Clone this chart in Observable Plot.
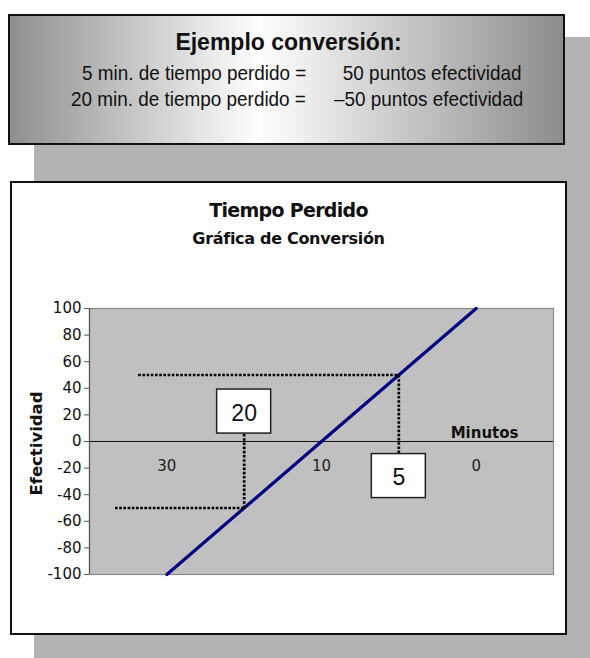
<!DOCTYPE html>
<html>
<head>
<meta charset="utf-8">
<script src="https://cdn.jsdelivr.net/npm/d3@7"></script>
<script src="https://cdn.jsdelivr.net/npm/@observablehq/plot@0.6"></script>
<style>
  body { margin: 0; background: #ffffff; }
  #page { position: relative; width: 590px; height: 658px; overflow: hidden; font-family: "Liberation Sans", Arial, sans-serif; }
  #shadow { position: absolute; left: 34px; top: 37px; width: 556px; height: 621px; background: #b3b3b3; }
  #banner { position: absolute; left: 8px; top: 14px; width: 557px; height: 131px; box-sizing: border-box;
            border: 2px solid #111; background: linear-gradient(to right, #8f8f8f 0%, #ffffff 45%, #8c8c8c 100%); }
  .bt { position: absolute; white-space: pre; line-height: 1; color: #111; }
  .nar { font-size: 21px; transform: scaleX(0.9); transform-origin: right center; }
  #chartbox { position: absolute; left: 10px; top: 181px; width: 557px; height: 454px; box-sizing: border-box;
              border: 2px solid #111; background: #ffffff; }
  .ct { position: absolute; left: 10px; width: 557px; text-align: center; line-height: 1; font-family: "DejaVu Sans", Verdana, sans-serif; font-weight: bold; color: #111; white-space: pre; }
  #plot { position: absolute; left: 0; top: 0; }
</style>
</head>
<body>
<div id="page">
  <div id="shadow"></div>
  <div id="banner"></div>
  <div class="bt" style="left:0;width:577px;text-align:center;top:31px;font-size:23px;font-weight:bold;">Ejemplo conversión:</div>
  <div class="bt nar" style="right:284px;top:62px;">5 min. de tiempo perdido =</div>
  <div class="bt nar" style="right:69px;top:62px;">50 puntos efectividad</div>
  <div class="bt nar" style="right:284px;top:88px;">20 min. de tiempo perdido =</div>
  <div class="bt nar" style="right:67px;top:88px;">–50 puntos efectividad</div>
  <div id="chartbox"></div>
  <div class="ct" style="top:201px;font-size:19px;letter-spacing:-0.7px;">Tiempo Perdido</div>
  <div class="ct" style="top:231px;font-size:16px;letter-spacing:-0.3px;">Gráfica de Conversión</div>
  <div id="plot"></div>
</div>
<script>
// ---- data ----
const categoryLabels = ["30", "10", "0"];      // category axis labels (minutes)
const categoryMinutes = [30, 10, 0];
const efectividad = [-100, 0, 100];            // conversion line values
const yTicks = [-100, -80, -60, -40, -20, 0, 20, 40, 60, 80, 100];
const exampleMinutes = [20, 5];                 // example conversions
const exampleEfect = [-50, 50];
const guideStartMinutes = [36.7, 33.7];         // where the dotted guides start
const boxValue = [22.5, -26];                   // label box centre (efectividad units)

// minute -> category index (piecewise, like the Excel category axis)
const toIdx = d3.scaleLinear().domain(categoryMinutes).range(categoryMinutes.map((_, i) => i));

const lineData = categoryLabels.map((label, i) => ({ i, label, v: efectividad[i] }));
const examples = exampleMinutes.map((m, k) => ({
  m, idx: toIdx(m), ef: exampleEfect[k], from: toIdx(guideStartMinutes[k]), box: boxValue[k]
}));

const dotted = { stroke: "#000", strokeWidth: 2.7, strokeDasharray: "2.6,1.6" };

const chart = Plot.plot({
  width: 590,
  height: 658,
  marginLeft: 89,
  marginRight: 37,
  marginTop: 308,
  marginBottom: 84,
  style: { background: "transparent", overflow: "visible", fontFamily: "DejaVu Sans, Verdana, sans-serif", color: "#111" },
  x: { domain: [-0.5, categoryLabels.length - 0.5], axis: null },
  y: { domain: [-100, 100], axis: null },
  marks: [
    Plot.frame({ fill: "#c0c0c0", stroke: "#8a8a8a", strokeWidth: 1.2 }),
    Plot.ruleX([-0.5], { stroke: "#555", strokeWidth: 1.2 }),
    Plot.axisY({ ticks: yTicks, tickFormat: d => String(d), tickSize: 5, tickPadding: 3, fontSize: 15, letterSpacing: -0.4, label: null, stroke: "#555" }),
    Plot.ruleY([0], { stroke: "#111", strokeWidth: 1.2 }),
    Plot.text(lineData, { x: "i", y: () => 0, text: "label", dy: 25, fontSize: 15, fill: "#222" }),
    Plot.text(["Minutos"], { frameAnchor: "right", y: () => 0, dx: -35, dy: -4, textAnchor: "end", lineAnchor: "bottom", fontSize: 15, fontWeight: "bold", letterSpacing: -0.8, fill: "#111" }),
    Plot.text(["Efectividad"], { frameAnchor: "left", textAnchor: "middle", dx: -52.5, dy: 2, rotate: -90, fontSize: 16.5, fontWeight: "bold", fill: "#111" }),
    Plot.line(lineData, { x: "i", y: "v", stroke: "#000080", strokeWidth: 3.2 }),
    Plot.link(examples, { x1: "from", x2: "idx", y1: "ef", y2: "ef", ...dotted }),
    Plot.link(examples, { x1: "idx", x2: "idx", y1: "ef", y2: "box", ...dotted }),
    Plot.rect(examples, { x1: "idx", x2: "idx", y1: "box", y2: "box", insetLeft: -27, insetRight: -27, insetTop: -22, insetBottom: -22, fill: "#fff", stroke: "#222", strokeWidth: 1.5 }),
    Plot.text(examples, { x: "idx", y: "box", text: d => String(d.m), dy: 2, fontSize: 23, letterSpacing: -1.5, fontFamily: "Liberation Sans, Arial, sans-serif", fill: "#111" })
  ]
});
document.getElementById("plot").appendChild(chart);
</script>
</body>
</html>
